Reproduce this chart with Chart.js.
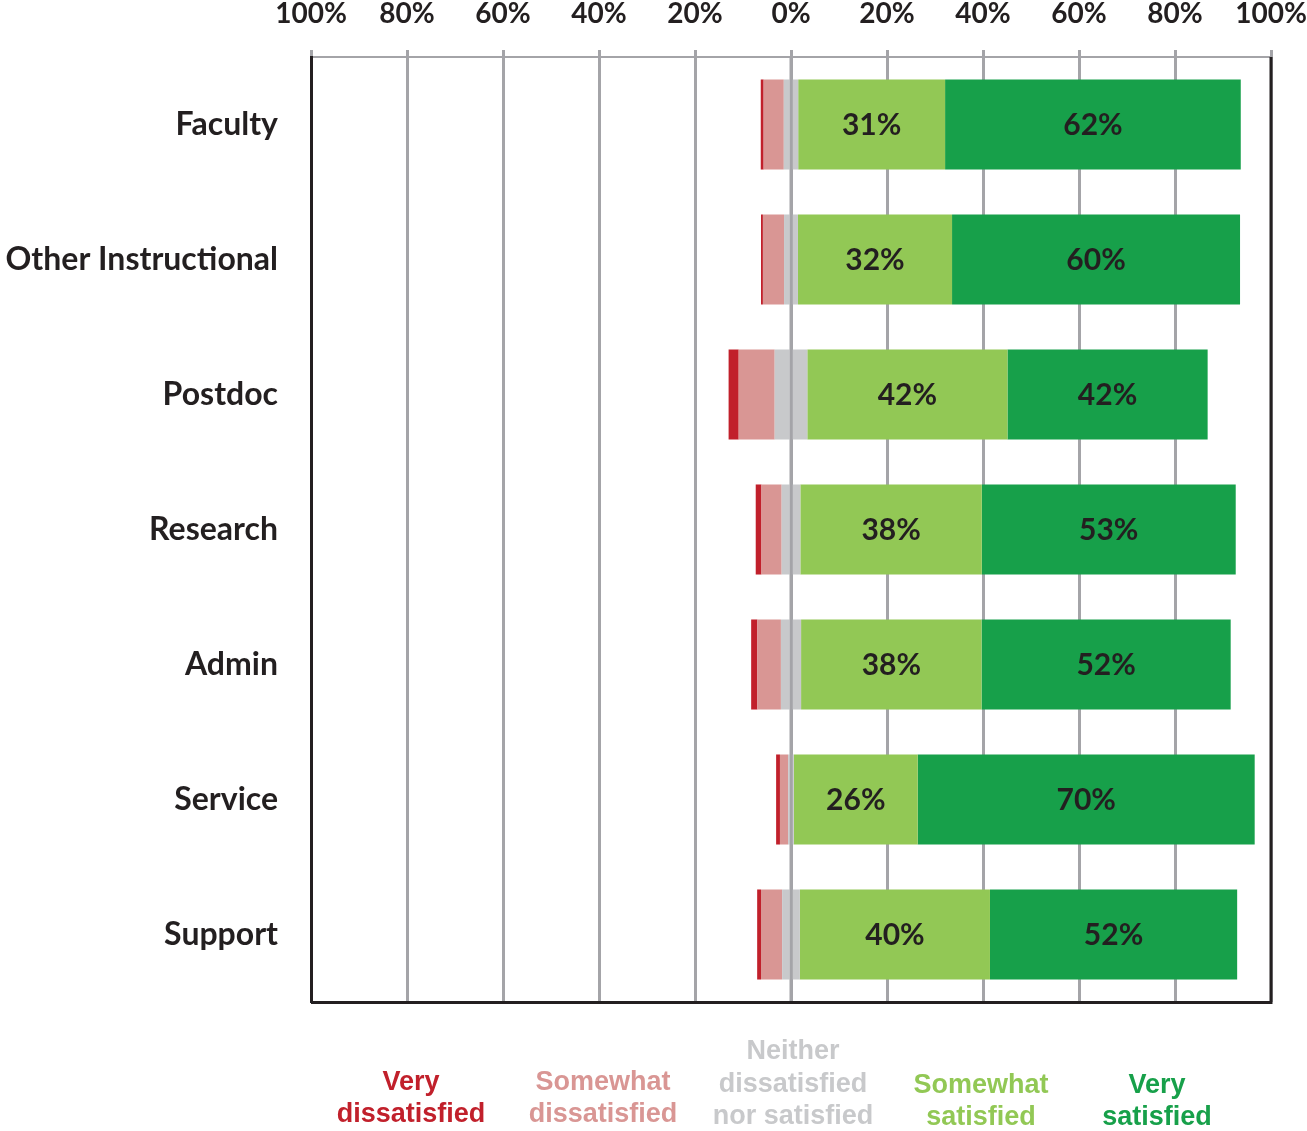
<!DOCTYPE html>
<html>
<head>
<meta charset="utf-8">
<script src="https://cdn.jsdelivr.net/npm/chart.js@4.4.0/dist/chart.umd.min.js"></script>
<style>
  html, body { margin: 0; padding: 0; background: #ffffff; }
  #wrap { width: 1307px; height: 1131px; }
</style>
</head>
<body>
<div id="wrap"><canvas id="c" width="1307" height="1131"></canvas></div>
<script>
const categories = ['Faculty', 'Other Instructional', 'Postdoc', 'Research', 'Admin', 'Service', 'Support'];
const veryDissatisfied     = [0.6, 0.4, 2.1, 1.2, 1.3, 0.8, 0.8];
const somewhatDissatisfied = [4.2, 4.4, 7.5, 4.2, 4.9, 1.7, 4.4];
const neither              = [3.0, 2.9, 6.8, 3.9, 4.2, 1.2, 3.7];
const somewhatSatisfied    = [30.6, 32.1, 41.7, 37.8, 37.6, 25.8, 39.6];
const verySatisfied        = [61.6, 60.0, 41.7, 52.9, 51.9, 70.2, 51.5];
const axisTicks = [-100, -80, -60, -40, -20, 0, 20, 40, 60, 80, 100];
const legendLines = [
  ['Very', 'dissatisfied'],
  ['Somewhat', 'dissatisfied'],
  ['Neither', 'dissatisfied', 'nor satisfied'],
  ['Somewhat', 'satisfied'],
  ['Very', 'satisfied']
];

const COLORS = {
  vd: '#c1202b',
  sd: '#d99694',
  ne: '#c8c9cb',
  ss: '#92c855',
  vs: '#17a04a'
};
const TEXT = '#231f20';
const GRID = '#a4a4a8';

const datasets = [
  { label: 'Neither (left)', data: neither.map(v => -v / 2), backgroundColor: COLORS.ne },
  { label: 'Somewhat dissatisfied', data: somewhatDissatisfied.map(v => -v), backgroundColor: COLORS.sd },
  { label: 'Very dissatisfied', data: veryDissatisfied.map(v => -v), backgroundColor: COLORS.vd },
  { label: 'Neither (right)', data: neither.map(v => v / 2), backgroundColor: COLORS.ne },
  { label: 'Somewhat satisfied', data: somewhatSatisfied, backgroundColor: COLORS.ss, showLabel: true },
  { label: 'Very satisfied', data: verySatisfied, backgroundColor: COLORS.vs, showLabel: true }
].map(d => Object.assign(d, { stack: 's', borderWidth: 0, barPercentage: 0.667, categoryPercentage: 1.0 }));

const decorPlugin = {
  id: 'decor',
  afterDatasetsDraw(chart) {
    const ctx = chart.ctx;
    const ca = chart.chartArea;
    const xs = chart.scales.x;
    const x0 = xs.getPixelForValue(0);
    ctx.save();
    ctx.strokeStyle = GRID;
    ctx.lineWidth = 3;
    ctx.beginPath();
    ctx.moveTo(x0, ca.top);
    ctx.lineTo(x0, ca.bottom);
    ctx.stroke();
    ctx.strokeStyle = TEXT;
    ctx.lineWidth = 3;
    ctx.beginPath();
    ctx.moveTo(ca.left, ca.bottom + 0.5);
    ctx.lineTo(ca.right + 1.5, ca.bottom + 0.5);
    ctx.moveTo(ca.right, ca.top);
    ctx.lineTo(ca.right, ca.bottom + 0.5);
    ctx.stroke();
    ctx.fillStyle = TEXT;
    ctx.font = 'bold 30px Lato';
    ctx.textAlign = 'center';
    ctx.textBaseline = 'middle';
    chart.data.datasets.forEach((ds, i) => {
      if (!ds.showLabel) return;
      const meta = chart.getDatasetMeta(i);
      meta.data.forEach((bar, j) => {
        const p = bar.getProps(['x', 'y', 'base'], true);
        const cx = (p.x + p.base) / 2;
        ctx.fillText(Math.round(ds.data[j]) + '%', cx, p.y + 1);
      });
    });
    const legendX = [411, 603, 793, 981, 1157];
    const legendBase = [1122, 1122, 1124, 1125, 1125];
    const legendColors = [COLORS.vd, COLORS.sd, COLORS.ne, COLORS.ss, COLORS.vs];
    ctx.font = 'bold 27px "Liberation Sans"';
    ctx.textBaseline = 'alphabetic';
    legendLines.forEach((lines, k) => {
      ctx.fillStyle = legendColors[k];
      const n = lines.length;
      lines.forEach((t, li) => {
        ctx.fillText(t, legendX[k], legendBase[k] - (n - 1 - li) * 32.5);
      });
    });
    ctx.restore();
  }
};

new Chart(document.getElementById('c'), {
  type: 'bar',
  data: { labels: categories, datasets },
  options: {
    responsive: false,
    animation: false,
    indexAxis: 'y',
    layout: { padding: { left: 0, right: 36, top: 0, bottom: 129 } },
    plugins: { legend: { display: false }, tooltip: { enabled: false } },
    scales: {
      x: {
        position: 'top',
        stacked: true,
        min: -100,
        max: 100,
        afterBuildTicks: s => { s.ticks = axisTicks.map(v => ({ value: v })); },
        ticks: {
          callback: v => Math.abs(v) + '%',
          font: { family: 'Lato', weight: 'bold', size: 28 },
          color: TEXT,
          padding: 19,
          maxRotation: 0,
          autoSkip: false
        },
        grid: { color: GRID, lineWidth: 3, tickLength: 7, drawTicks: true },
        border: { color: GRID, width: 2 },
        afterFit: s => { s.height = 57; s.paddingLeft = 0; s.paddingRight = 0; }
      },
      y: {
        stacked: true,
        ticks: {
          font: { family: 'Lato', weight: 'bold', size: 32 },
          color: TEXT,
          padding: 33
        },
        grid: { display: false, drawTicks: false },
        border: { color: TEXT, width: 3 },
        afterFit: s => { s.width = 311; }
      }
    }
  },
  plugins: [decorPlugin]
});
</script>
</body>
</html>
